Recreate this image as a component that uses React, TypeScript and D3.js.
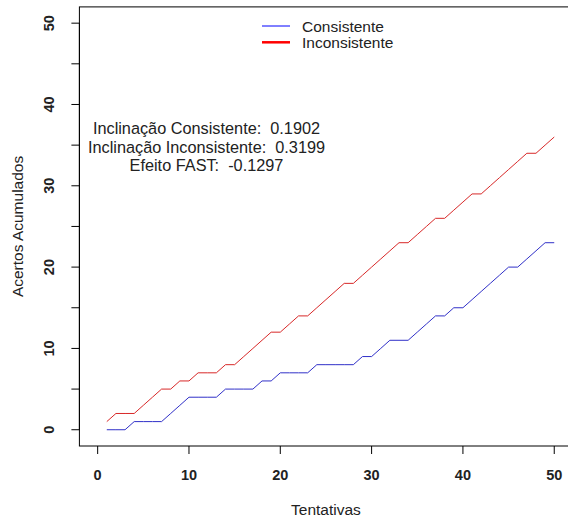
import React from "react";
import * as d3 from "d3";

const trials = d3.range(1, 51);
const consistente = [0,0,0,1,1,1,1,2,3,4,4,4,4,5,5,5,5,6,6,7,7,7,7,8,8,8,8,8,9,9,10,11,11,11,12,13,14,14,15,15,16,17,18,19,20,20,21,22,23,23];
const inconsistente = [1,2,2,2,3,4,5,5,6,6,7,7,7,8,8,9,10,11,12,12,13,14,14,15,16,17,18,18,19,20,21,22,23,23,24,25,26,26,27,28,29,29,30,31,32,33,34,34,35,36];
const xTicks = [0, 10, 20, 30, 40, 50];
const yTicks = [0, 5, 10, 15, 20, 25, 30, 35, 40, 45, 50];
const yLabels = [0, 10, 20, 30, 40, 50];
const legendItems = ["Consistente", "Inconsistente"];
const annotations = [
  "Inclinação Consistente:  0.1902",
  "Inclinação Inconsistente:  0.3199",
  "Efeito FAST:  -0.1297",
];

const W = 568, H = 523;
const FONT = "'Liberation Sans', Arial, sans-serif";

export default function App() {
  const x = d3.scaleLinear().domain([-2, 52]).range([79.4, 572.5]);
  const y = d3.scaleLinear().domain([-2, 52]).range([446, 6.9]);
  const line = d3.line<number>().x((_, i) => x(trials[i])).y((d) => y(d));
  const colors = ["#3030c8", "#d82828"];
  const series = [consistente, inconsistente];
  const left = x(-2), right = x(52), top = y(52), bottom = y(-2);
  return (
    <svg width={W} height={H} style={{ position: "absolute", left: 0, top: 0, background: "#fff" }} fontFamily={FONT}>
      <rect x={0} y={0} width={W} height={H} fill="#fff" />
      {series.map((s, k) => (
        <path key={k} d={line(s) || ""} fill="none" stroke={colors[k]} strokeWidth={1} />
      ))}
      <rect x={left} y={top} width={right - left} height={bottom - top} fill="none" stroke="#000" strokeWidth={1} />
      {xTicks.map((t) => (
        <g key={t}>
          <line x1={x(t)} x2={x(t)} y1={bottom} y2={bottom + 8} stroke="#000" />
          <text x={x(t)} y={bottom + 34} fontSize={14.5} fontWeight="bold" textAnchor="middle" fill="#222">{t}</text>
        </g>
      ))}
      <line x1={left} x2={left} y1={y(0)} y2={y(50)} stroke="#000" />
      {yTicks.map((t) => (
        <line key={t} x1={left - 8} x2={left} y1={y(t)} y2={y(t)} stroke="#000" />
      ))}
      {yLabels.map((t) => (
        <text key={t} transform={`translate(${left - 25},${y(t)}) rotate(-90)`} fontSize={14.5} fontWeight="bold" textAnchor="middle" fill="#222">{t}</text>
      ))}
      <text x={(left + right) / 2} y={515} fontSize={15.5} textAnchor="middle" fill="#222">Tentativas</text>
      <text transform={`translate(22.5,${(top + bottom) / 2}) rotate(-90)`} fontSize={15.5} textAnchor="middle" fill="#222">Acertos Acumulados</text>
      {legendItems.map((name, i) => (
        <g key={name}>
          <line x1={262} x2={290} y1={26 + i * 16.3} y2={26 + i * 16.3} stroke={i === 0 ? "#0000ff" : "#ff0000"} strokeWidth={i === 0 ? 1 : 2.5} />
          <text x={302} y={31.5 + i * 16.3} fontSize={15.5} fill="#222">{name}</text>
        </g>
      ))}
      {annotations.map((a, i) => (
        <text key={i} x={206.5} y={134 + i * 18.5} fontSize={16.3} textAnchor="middle" fill="#222" style={{ whiteSpace: "pre" }}>{a}</text>
      ))}
    </svg>
  );
}
